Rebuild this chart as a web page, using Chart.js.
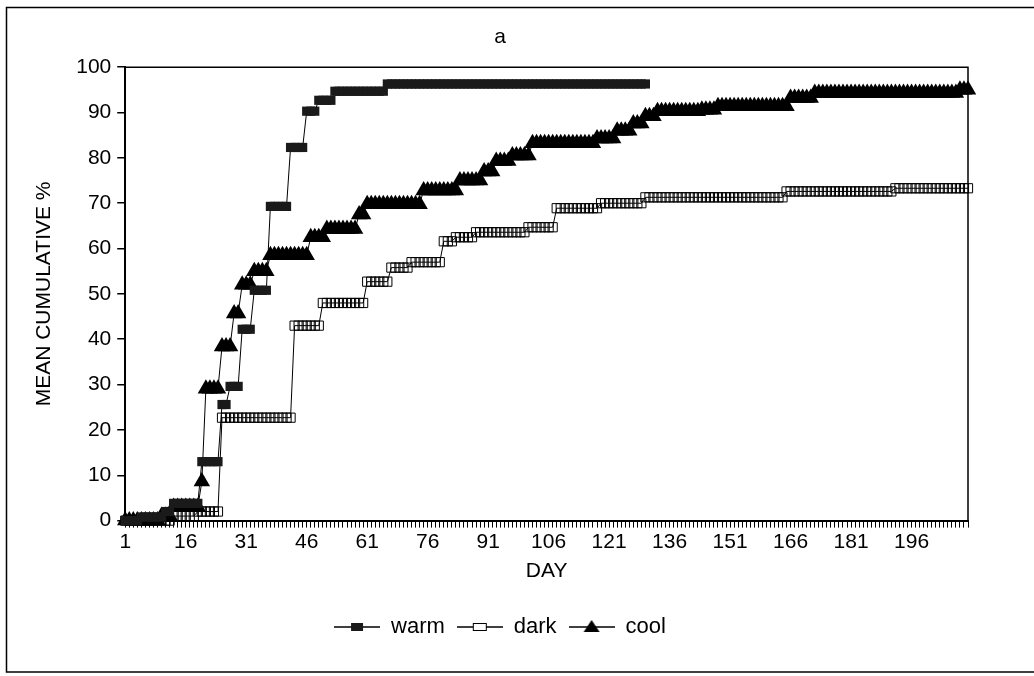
<!DOCTYPE html>
<html lang="en">
<head>
  <meta charset="UTF-8">
  <title>Mean cumulative % by day</title>
  <script src="https://cdn.jsdelivr.net/npm/chart.js"></script>
  <style>
    html, body { margin: 0; padding: 0; background: #fff; }
    #wrap { position: relative; width: 1034px; height: 676px; }
  </style>
</head>
<body>
  <div id="wrap"><canvas id="chart"></canvas></div>

  <script>
    // categories: day 1 .. 210, only some of them get a label
    const days = Array.from({ length: 210 }, (_, i) => String(i + 1));
    const tickLabels = ['1', '16', '31', '46', '61', '76', '91', '106', '121', '136', '151', '166', '181', '196'];

    // values, one per day (10 per line)
    const warm = [
      0, 0, 0, 0, 0.8, 0.8, 0.8, 0.8, 0.8, 0.8,
      2, 2, 3.8, 3.8, 3.8, 3.8, 3.8, 3.8, 3.8, 13,
      13, 13, 13, 13, 25.6, 25.6, 29.6, 29.6, 29.6, 42.2,
      42.2, 42.2, 50.8, 50.8, 50.8, 50.8, 69.3, 69.3, 69.3, 69.3,
      69.3, 82.3, 82.3, 82.3, 82.3, 90.3, 90.3, 90.3, 92.7, 92.7,
      92.7, 92.7, 94.7, 94.7, 94.7, 94.7, 94.7, 94.7, 94.7, 94.7,
      94.7, 94.7, 94.7, 94.7, 94.7, 96.3, 96.3, 96.3, 96.3, 96.3,
      96.3, 96.3, 96.3, 96.3, 96.3, 96.3, 96.3, 96.3, 96.3, 96.3,
      96.3, 96.3, 96.3, 96.3, 96.3, 96.3, 96.3, 96.3, 96.3, 96.3,
      96.3, 96.3, 96.3, 96.3, 96.3, 96.3, 96.3, 96.3, 96.3, 96.3,
      96.3, 96.3, 96.3, 96.3, 96.3, 96.3, 96.3, 96.3, 96.3, 96.3,
      96.3, 96.3, 96.3, 96.3, 96.3, 96.3, 96.3, 96.3, 96.3, 96.3,
      96.3, 96.3, 96.3, 96.3, 96.3, 96.3, 96.3, 96.3, 96.3, 96.3
    ];

    const dark = [
      0, 0, 0, 0, 0, 0, 0, 0, 0, 0,
      0, 0, 1, 1, 1, 1, 1, 1, 2, 2,
      2, 2, 2, 2, 22.7, 22.7, 22.7, 22.7, 22.7, 22.7,
      22.7, 22.7, 22.7, 22.7, 22.7, 22.7, 22.7, 22.7, 22.7, 22.7,
      22.7, 22.7, 43, 43, 43, 43, 43, 43, 43, 48,
      48, 48, 48, 48, 48, 48, 48, 48, 48, 48,
      52.7, 52.7, 52.7, 52.7, 52.7, 52.7, 55.8, 55.8, 55.8, 55.8,
      55.8, 57, 57, 57, 57, 57, 57, 57, 57, 61.6,
      61.6, 61.6, 62.5, 62.5, 62.5, 62.5, 62.5, 63.6, 63.6, 63.6,
      63.6, 63.6, 63.6, 63.6, 63.6, 63.6, 63.6, 63.6, 63.6, 63.6,
      64.7, 64.7, 64.7, 64.7, 64.7, 64.7, 64.7, 68.9, 68.9, 68.9,
      68.9, 68.9, 68.9, 68.9, 68.9, 68.9, 68.9, 68.9, 70, 70,
      70, 70, 70, 70, 70, 70, 70, 70, 70, 71.3,
      71.3, 71.3, 71.3, 71.3, 71.3, 71.3, 71.3, 71.3, 71.3, 71.3,
      71.3, 71.3, 71.3, 71.3, 71.3, 71.3, 71.3, 71.3, 71.3, 71.3,
      71.3, 71.3, 71.3, 71.3, 71.3, 71.3, 71.3, 71.3, 71.3, 71.3,
      71.3, 71.3, 71.3, 71.3, 72.6, 72.6, 72.6, 72.6, 72.6, 72.6,
      72.6, 72.6, 72.6, 72.6, 72.6, 72.6, 72.6, 72.6, 72.6, 72.6,
      72.6, 72.6, 72.6, 72.6, 72.6, 72.6, 72.6, 72.6, 72.6, 72.6,
      72.6, 73.3, 73.3, 73.3, 73.3, 73.3, 73.3, 73.3, 73.3, 73.3,
      73.3, 73.3, 73.3, 73.3, 73.3, 73.3, 73.3, 73.3, 73.3, 73.3
    ];

    const cool = [
      0, 0, 0, 0, 0, 0, 0, 0, 0, 1,
      1, 1, 3, 3, 3, 3, 3, 3, 3, 8.6,
      29.1, 29.1, 29.1, 29.1, 38.4, 38.4, 38.4, 45.7, 45.7, 52,
      52, 52, 55, 55, 55, 55, 58.5, 58.5, 58.5, 58.5,
      58.5, 58.5, 58.5, 58.5, 58.5, 58.5, 62.5, 62.5, 62.5, 62.5,
      64.3, 64.3, 64.3, 64.3, 64.3, 64.3, 64.3, 64.3, 67.5, 67.5,
      69.8, 69.8, 69.8, 69.8, 69.8, 69.8, 69.8, 69.8, 69.8, 69.8,
      69.8, 69.8, 69.8, 69.8, 72.8, 72.8, 72.8, 72.8, 72.8, 72.8,
      72.8, 72.8, 72.8, 75, 75, 75, 75, 75, 75, 77,
      77, 77, 79.3, 79.3, 79.3, 79.3, 80.5, 80.5, 80.5, 80.5,
      80.5, 83.2, 83.2, 83.2, 83.2, 83.2, 83.2, 83.2, 83.2, 83.2,
      83.2, 83.2, 83.2, 83.2, 83.2, 83.2, 83.2, 84.3, 84.3, 84.3,
      84.3, 84.3, 86, 86, 86, 86, 87.6, 87.6, 87.6, 89.2,
      89.2, 89.2, 90.3, 90.3, 90.3, 90.3, 90.3, 90.3, 90.3, 90.3,
      90.3, 90.3, 90.3, 90.6, 90.6, 90.6, 90.6, 91.4, 91.4, 91.4,
      91.4, 91.4, 91.4, 91.4, 91.4, 91.4, 91.4, 91.4, 91.4, 91.4,
      91.4, 91.4, 91.4, 91.4, 91.4, 93.2, 93.2, 93.2, 93.2, 93.2,
      93.2, 94.3, 94.3, 94.3, 94.3, 94.3, 94.3, 94.3, 94.3, 94.3,
      94.3, 94.3, 94.3, 94.3, 94.3, 94.3, 94.3, 94.3, 94.3, 94.3,
      94.3, 94.3, 94.3, 94.3, 94.3, 94.3, 94.3, 94.3, 94.3, 94.3,
      94.3, 94.3, 94.3, 94.3, 94.3, 94.3, 94.3, 95, 95, 95
    ];

    Chart.defaults.font.family = '"Liberation Sans", Arial, sans-serif';
    Chart.defaults.color = '#000';

    // little legend icons: a line with the marker in the middle
    function legendIcon(kind) {
      const c = document.createElement('canvas');
      c.width = 46; c.height = 16;
      const g = c.getContext('2d');
      g.strokeStyle = '#000';
      g.lineWidth = 1.5;
      g.beginPath(); g.moveTo(0, 8); g.lineTo(46, 8); g.stroke();
      g.lineWidth = 1;
      if (kind === 'warm') {
        g.fillStyle = '#1a1a1a';
        g.fillRect(17, 4, 12, 8);
      } else if (kind === 'dark') {
        g.fillStyle = '#fff';
        g.fillRect(16.5, 4.5, 13, 7);
        g.strokeRect(16.5, 4.5, 13, 7);
      } else {
        g.fillStyle = '#000';
        g.beginPath(); g.moveTo(23, 1); g.lineTo(31, 13); g.lineTo(15, 13); g.closePath(); g.fill();
      }
      return c;
    }
    const icons = [legendIcon('warm'), legendIcon('dark'), legendIcon('cool')];

    const framePlugin = {
      id: 'frame',
      beforeDatasetsDraw(chart) {
        const { ctx, chartArea: a } = chart;
        ctx.save();
        ctx.strokeStyle = '#000';
        ctx.lineWidth = 1.5;
        ctx.beginPath();
        ctx.moveTo(a.left, a.top); ctx.lineTo(a.right, a.top); ctx.lineTo(a.right, a.bottom);
        ctx.stroke();
        // outer box round the whole figure
        ctx.beginPath();
        ctx.moveTo(1034, 7.5); ctx.lineTo(6.5, 7.5); ctx.lineTo(6.5, 672); ctx.lineTo(1034, 672);
        ctx.stroke();
        ctx.restore();
      }
    };

    new Chart(document.getElementById('chart'), {
      type: 'line',
      data: {
        labels: days,
        datasets: [
          {
            label: 'warm', data: warm,
            borderColor: '#000', borderWidth: 1,
            pointStyle: 'rect', pointRadius: 6.5,
            pointBackgroundColor: '#1a1a1a', pointBorderColor: '#1a1a1a', pointBorderWidth: 0,
            clip: false
          },
          {
            label: 'dark', data: dark,
            borderColor: '#000', borderWidth: 1,
            pointStyle: 'rect', pointRadius: 6.5,
            pointBackgroundColor: 'rgba(255,255,255,0)', pointBorderColor: '#000', pointBorderWidth: 1,
            clip: false
          },
          {
            label: 'cool', data: cool,
            borderColor: '#000', borderWidth: 1,
            pointStyle: 'triangle', pointRadius: 9.5,
            pointBackgroundColor: '#000', pointBorderColor: '#000', pointBorderWidth: 0,
            clip: false
          }
        ]
      },
      options: {
        responsive: true,
        maintainAspectRatio: false,
        animation: false,
        layout: { padding: { left: 32, right: 66, top: 0, bottom: 28 } },
        plugins: {
          title: {
            display: true, text: 'a', color: '#000',
            font: { size: 21, weight: 'normal' },
            padding: { top: 25, bottom: 17 }
          },
          legend: {
            position: 'bottom',
            labels: {
              usePointStyle: true, pointStyleWidth: 46,
              font: { size: 22 }, color: '#000', padding: 12,
              generateLabels(chart) {
                const items = Chart.defaults.plugins.legend.labels.generateLabels(chart);
                items.forEach((it, i) => { it.pointStyle = icons[i]; });
                return items;
              }
            }
          },
          tooltip: { enabled: false }
        },
        scales: {
          x: {
            offset: false,
            grid: { drawOnChartArea: false, tickLength: 7, color: '#000', lineWidth: 1 },
            border: { color: '#000', width: 2 },
            ticks: {
              autoSkip: false, maxRotation: 0, minRotation: 0,
              color: '#000', font: { size: 21 }, padding: 2,
              callback(v, i) { return tickLabels.includes(days[i]) ? days[i] : ''; }
            },
            title: { display: true, text: 'DAY', color: '#000', font: { size: 21 }, padding: { top: 2, bottom: 20 } }
          },
          y: {
            min: 0, max: 100,
            grid: { drawOnChartArea: false, tickLength: 8, color: '#000', lineWidth: 1.5 },
            border: { color: '#000', width: 2 },
            ticks: { stepSize: 10, color: '#000', font: { size: 21 }, padding: 6 },
            title: { display: true, text: 'MEAN CUMULATIVE %', color: '#000', font: { size: 21 }, padding: { top: 0, bottom: 13 } }
          }
        }
      },
      plugins: [framePlugin]
    });
  </script>
</body>
</html>
